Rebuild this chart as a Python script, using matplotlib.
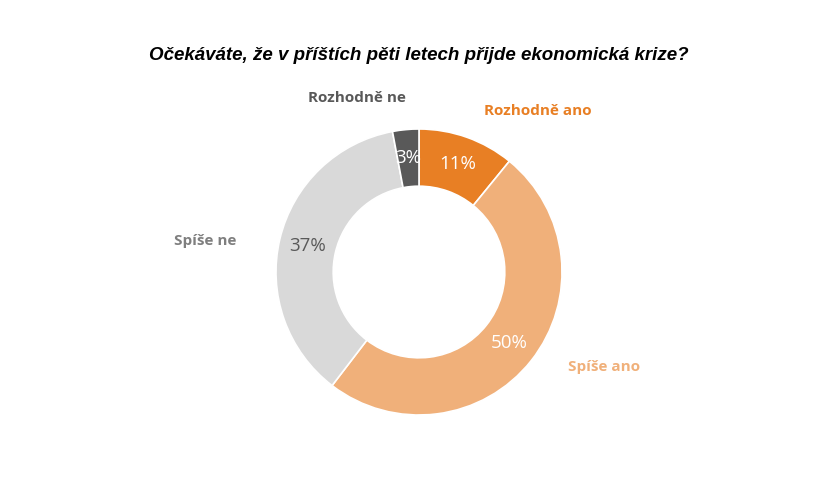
import matplotlib
matplotlib.use("Agg")
import matplotlib.pyplot as plt

categories = ["Rozhodně ano", "Spíše ano", "Spíše ne", "Rozhodně ne"]
values = [11, 50, 37, 3]
colors = ["#E87F24", "#F0B07A", "#D9D9D9", "#595959"]
pct_colors = ["white", "white", "#595959", "white"]
label_colors = ["#E87F24", "#F0B07A", "#7F7F7F", "#595959"]
label_pos = [(538, 111), (604, 367), (205, 241), (357, 98)]

W, H = 840, 480
fig = plt.figure(figsize=(W/100, H/100), dpi=100)
cx, cy, r = 419, 272, 143
ax = fig.add_axes([(cx - r)/W, 1 - (cy + r)/H, 2*r/W, 2*r/H])
wedges, texts, autotexts = ax.pie(
    values, colors=colors, startangle=90, counterclock=False, radius=1,
    wedgeprops=dict(width=0.4, edgecolor="white", linewidth=1.2),
    autopct=lambda p: "", pctdistance=0.8)
for t, v, c in zip(autotexts, values, pct_colors):
    t.set_text(f"{v}%")
    t.set_color(c)
    t.set_fontsize(13.5)
    t.set_fontfamily("Open Sans")
ax.set_xlim(-1, 1); ax.set_ylim(-1, 1)
ax.set_aspect("equal")
ax.axis("off")

for name, (x, y), c in zip(categories, label_pos, label_colors):
    fig.text(x/W, 1 - y/H, name, color=c, fontsize=11, fontweight="bold",
             fontfamily="Open Sans", ha="center", va="center")

fig.text(419/W, 1 - 56/H, "Očekáváte, že v příštích pěti letech přijde ekonomická krize?",
         fontsize=13.5, fontweight="bold", fontstyle="italic",
         fontfamily="Liberation Sans", ha="center", va="center", color="black")

fig.savefig("out.png", dpi=100, facecolor="white")
